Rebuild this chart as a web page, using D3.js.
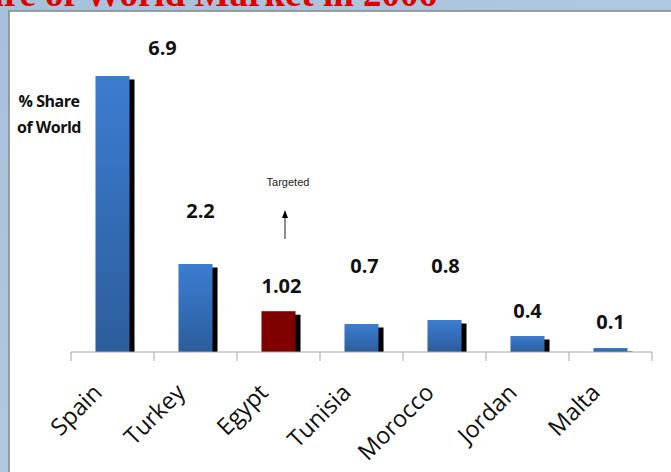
<!DOCTYPE html>
<html>
<head>
<meta charset="utf-8">
<script src="https://cdn.jsdelivr.net/npm/d3@7"></script>
<style>
  body { margin: 0; background: #fff; }
  svg { display: block; }
</style>
</head>
<body>
<div id="grafica"></div>
<script>
// datos del grafico
const countries = ["Spain", "Turkey", "Egypt", "Tunisia", "Morocco", "Jordan", "Malta"];
const shares = [6.9, 2.2, 1.02, 0.7, 0.8, 0.4, 0.1];
const valueLabels = ["6.9", "2.2", "1.02", "0.7", "0.8", "0.4", "0.1"];
const highlighted = "Egypt";

// desplazamiento de las etiquetas (px) respecto al centro/tope de cada barra
const labelShift = [[50, -21], [5, -46], [3, -18], [3, -51], [1, -47], [0, -18], [0, -19]];

const W = 671, H = 472;
const axisLeft = 71, axisRight = 652, baseY = 352;

const svg = d3.select("#grafica").append("svg")
  .attr("width", W)
  .attr("height", H);

const defs = svg.append("defs");
const bg = defs.append("linearGradient").attr("id", "bg")
  .attr("x1", 0).attr("y1", 0).attr("x2", 1).attr("y2", 1);
bg.append("stop").attr("offset", "0%").attr("stop-color", "#a6c1da");
bg.append("stop").attr("offset", "100%").attr("stop-color", "#b8cfe4");

const barGrad = defs.append("linearGradient").attr("id", "barGrad")
  .attr("x1", 0).attr("y1", 0).attr("x2", 0).attr("y2", 1);
barGrad.append("stop").attr("offset", "0%").attr("stop-color", "#3b7dd1");
barGrad.append("stop").attr("offset", "100%").attr("stop-color", "#2c5d9b");

// fondo y panel blanco
svg.append("rect").attr("width", W).attr("height", H).attr("fill", "url(#bg)");

svg.append("text")
  .attr("x", 437)
  .attr("y", 6)
  .attr("text-anchor", "end")
  .style("font-family", "'Liberation Serif', 'DejaVu Serif', serif")
  .style("font-weight", "bold")
  .style("font-size", "37px")
  .attr("fill", "#e00000")
  .text("Share of World Market in 2006");

svg.append("rect")
  .attr("x", 9).attr("y", 11)
  .attr("width", W).attr("height", H)
  .attr("fill", "#fff")
  .attr("stroke", "#858585")
  .attr("stroke-width", 1.5);

// escalas
const x = d3.scaleBand()
  .domain(countries)
  .range([axisLeft, axisRight])
  .padding(0);

const y = d3.scaleLinear()
  .domain([0, 8])
  .range([baseY, 32]);

const barW = x.bandwidth() * 0.41;
const cx = d => x(d) + x.bandwidth() / 2;

const data = countries.map((c, i) => ({ name: c, value: shares[i], label: valueLabels[i], shift: labelShift[i] }));

// sombras negras
svg.append("g").selectAll("rect")
  .data(data).enter()
  .append("rect")
  .attr("x", d => cx(d.name) - barW / 2 + 5)
  .attr("y", d => Math.min(y(d.value) + 3.5, baseY))
  .attr("width", barW)
  .attr("height", d => Math.max(0, baseY - y(d.value) - 3.5))
  .attr("fill", "#000");

// barras
svg.append("g").selectAll("rect")
  .data(data).enter()
  .append("rect")
  .attr("x", d => cx(d.name) - barW / 2)
  .attr("y", d => y(d.value))
  .attr("width", barW)
  .attr("height", d => baseY - y(d.value))
  .attr("fill", d => d.name === highlighted ? "#800000" : "url(#barGrad)");

// eje X
const axis = svg.append("g").attr("class", "x axis");
axis.append("line")
  .attr("x1", axisLeft).attr("x2", axisRight)
  .attr("y1", baseY).attr("y2", baseY)
  .attr("stroke", "#a6a6a6");
axis.selectAll(".tick")
  .data(countries.map(c => x(c)).concat([axisRight])).enter()
  .append("line")
  .attr("x1", d => d).attr("x2", d => d)
  .attr("y1", baseY).attr("y2", baseY + 9)
  .attr("stroke", "#a6a6a6");

axis.selectAll(".cat")
  .data(countries).enter()
  .append("text")
  .attr("class", "cat")
  .attr("text-anchor", "end")
  .attr("transform", d => `translate(${cx(d) - 9}, 394) rotate(-45)`)
  .style("font-family", "'Open Sans', sans-serif")
  .style("font-size", "23.5px")
  .attr("fill", "#111")
  .text(d => d);

// etiquetas de valor
svg.append("g").selectAll("text")
  .data(data).enter()
  .append("text")
  .attr("x", d => cx(d.name) + d.shift[0])
  .attr("y", d => y(d.value) + d.shift[1])
  .attr("text-anchor", "middle")
  .style("font-family", "'Open Sans', sans-serif")
  .style("font-weight", "bold")
  .style("font-size", "20px")
  .attr("fill", "#111")
  .text(d => d.label);

// titulo del eje Y
const yTitle = svg.append("text")
  .attr("text-anchor", "middle")
  .style("font-family", "'Open Sans', sans-serif")
  .style("font-weight", "bold")
  .style("font-size", "16px")
  .style("letter-spacing", "-0.5px")
  .attr("fill", "#111");
yTitle.append("tspan").attr("x", 49).attr("y", 107).text("% Share");
yTitle.append("tspan").attr("x", 49).attr("y", 133).text("of World");

// anotacion "Targeted"
const ax = cx(highlighted) + 6.5;
svg.append("line")
  .attr("x1", ax).attr("x2", ax)
  .attr("y1", 239).attr("y2", 217)
  .attr("stroke", "#666")
  .attr("stroke-width", 1.5);
svg.append("path")
  .attr("d", `M${ax - 3},${218} L${ax},${210} L${ax + 3},${218} Z`)
  .attr("fill", "#000");

svg.append("text")
  .attr("x", ax + 3)
  .attr("y", 186)
  .attr("text-anchor", "middle")
  .style("font-family", "'Liberation Sans', Arial, sans-serif")
  .style("font-size", "11px")
  .attr("fill", "#222")
  .text("Targeted");
</script>
</body>
</html>
